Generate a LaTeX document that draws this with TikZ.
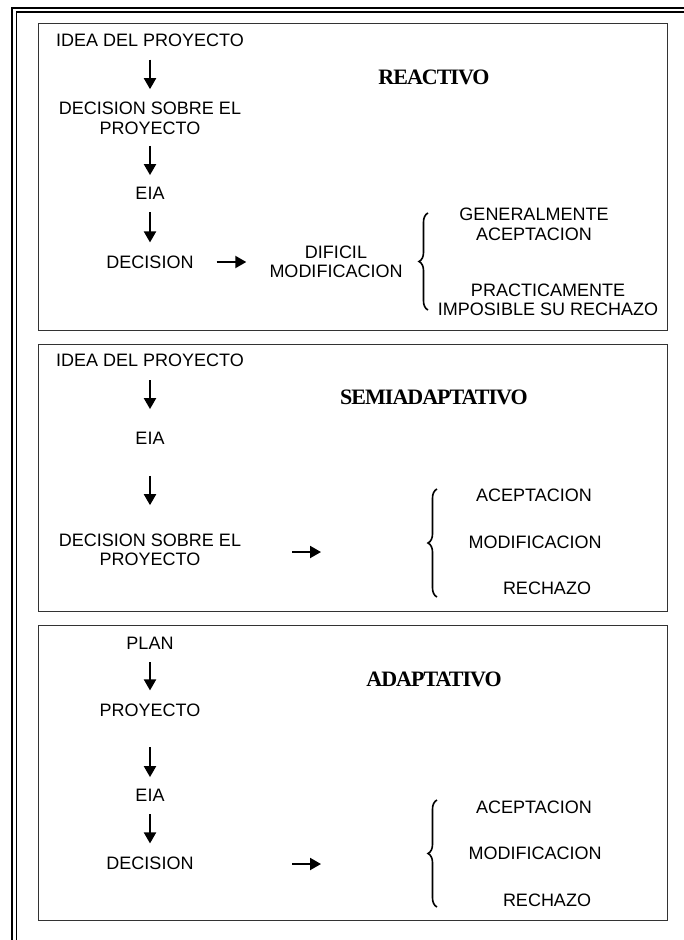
\documentclass[tikz,border=0pt]{standalone}
\usepackage{fontspec}
\setmainfont{Liberation Sans}
\newfontfamily\titulofont[LetterSpace=-4.5]{Liberation Serif}
\usetikzlibrary{arrows.meta,decorations.pathreplacing}
\tikzset{
  txt/.style={inner sep=0pt,align=center,font=\fontsize{18}{19.5}\selectfont},
  titulo/.style={inner sep=0pt,font=\titulofont\bfseries\fontsize{22}{24}\selectfont},
  flecha/.style={line width=2pt,-{Triangle[length=11pt,width=12pt]},shorten <=13pt,shorten >=13pt},
  caja/.style={draw=black!80,line width=1pt},
  llave/.style={decorate,decoration={brace,amplitude=9pt},line width=1.6pt},
  marco/.style={line width=2.2pt},
  marcofino/.style={line width=1.3pt}
}

\begin{document}
\begin{tikzpicture}[x=1pt,y=-1pt]
\useasboundingbox (0,0) rectangle (684,940);
\draw[marco] (12,940) -- (12,8) -- (684,8);
\draw[marcofino] (16.5,940) -- (16.5,12) -- (684,12);

\draw[caja] (38,23) rectangle (667,330);
\node[txt] (idea1) at (150,40) {IDEA DEL PROYECTO};
\node[titulo] (t1) at (434,77) {REACTIVO};
\node[txt] (dsp1) at (150,118.5) {DECISION SOBRE EL\\PROYECTO};
\node[txt] (eia1) at (150,193) {EIA};
\node[txt] (dec1) at (150,262) {DECISION};
\node[txt] (dif1) at (336,262) {DIFICIL\\MODIFICACION};
\node[txt] (gen1) at (534,224.5) {GENERALMENTE\\ACEPTACION};
\node[txt] (pra1) at (548,300) {PRACTICAMENTE\\IMPOSIBLE SU RECHAZO};
\coordinate (l1a) at (428,310);
\coordinate (l1b) at (428,213);
\draw[flecha] (idea1) -- (dsp1);
\draw[flecha,shorten <=11pt,shorten >=11.5pt] (dsp1) -- (eia1);
\draw[flecha] (eia1) -- (dec1);
\draw[flecha,shorten <=23pt,shorten >=23pt] (dec1) -- (dif1);
\draw[llave] (l1a) -- (l1b);

\draw[caja] (38,344) rectangle (667,611);
\node[txt] (idea2) at (150,360) {IDEA DEL PROYECTO};
\node[titulo] (t2) at (434,397) {SEMIADAPTATIVO};
\node[txt] (eia2) at (150,438) {EIA};
\node[txt] (dsp2) at (150,550) {DECISION SOBRE EL\\PROYECTO};
\node[txt] (ace2) at (534,495) {ACEPTACION};
\node[txt] (mod2) at (535,542) {MODIFICACION};
\node[txt] (rec2) at (547,588) {RECHAZO};
\coordinate (f2a) at (292,552);
\coordinate (f2b) at (321,552);
\coordinate (l2a) at (437,597);
\coordinate (l2b) at (437,489);
\draw[flecha,shorten <=13.5pt,shorten >=22.5pt] (idea2) -- (eia2);
\draw[flecha,shorten <=31.5pt,shorten >=28.5pt] (eia2) -- (dsp2);
\draw[flecha,shorten <=0pt,shorten >=0pt] (f2a) -- (f2b);
\draw[llave] (l2a) -- (l2b);

\draw[caja] (38,625) rectangle (667,920);
\node[txt] (plan3) at (150,643) {PLAN};
\node[titulo] (t3) at (434,679) {ADAPTATIVO};
\node[txt] (pro3) at (150,710) {PROYECTO};
\node[txt] (eia3) at (150,795) {EIA};
\node[txt] (dec3) at (150,863) {DECISION};
\node[txt] (ace3) at (534,807) {ACEPTACION};
\node[txt] (mod3) at (535,853) {MODIFICACION};
\node[txt] (rec3) at (547,900) {RECHAZO};
\coordinate (f3a) at (292,864);
\coordinate (f3b) at (321,864);
\coordinate (l3a) at (437,907);
\coordinate (l3b) at (437,800);
\draw[flecha] (plan3) -- (pro3);
\draw[flecha,shorten <=30.5pt,shorten >=11.5pt] (pro3) -- (eia3);
\draw[flecha] (eia3) -- (dec3);
\draw[flecha,shorten <=0pt,shorten >=0pt] (f3a) -- (f3b);
\draw[llave] (l3a) -- (l3b);
\end{tikzpicture}
\end{document}
